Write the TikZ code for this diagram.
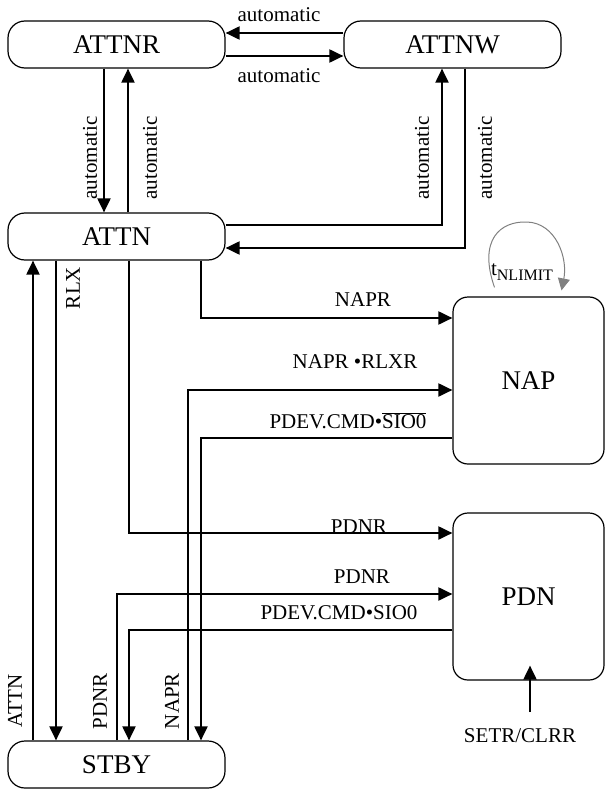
\documentclass[tikz,border=0pt]{standalone}
\usepackage{fontspec}
\setmainfont{Liberation Serif}
\usetikzlibrary{arrows.meta}

\begin{document}
\begin{tikzpicture}
    [
    x=1pt, y=-1pt, font=\fontsize{21}{24}\selectfont,
    >={Triangle[length=14pt,width=13pt]},
    %Voreinstellung für Zustände, Pfeile und Beschriftungen
    zustand/.style={draw, line width=1.2pt, rounded corners=17pt, inner sep=0pt,
      minimum width=217pt, minimum height=47pt, font=\fontsize{27}{30}\selectfont},
    block/.style={zustand, rounded corners=15pt, minimum width=151pt, minimum height=167pt},
    pfeil/.style={->, line width=2pt},
    schleife/.style={-{Triangle[length=12pt,width=12pt]}, gray, line width=1pt},
    lbl/.style={inner sep=0pt}
    ]
    
    \useasboundingbox (0,0) rectangle (605,789);
    
    %Zustände
    \node[zustand] (attnr) at (116.5,44.5) {ATTNR};
    \node[zustand] (attnw) at (452.5,44.5) {ATTNW};
    \node[zustand] (attn) at (116.5,236.5) {ATTN};
    \node[zustand] (stby) at (116.5,764.5) {STBY};
    \node[block] (nap) at (528.5,380.5) {NAP};
    \node[block] (pdn) at (528.5,596.5) {PDN};
    
    %ATTNR <-> ATTNW
    \draw[pfeil] ([yshift=11.5pt]attnw.west) -- ([yshift=11.5pt]attnr.east);
    \draw[pfeil] ([yshift=-11.5pt]attnr.east) -- ([yshift=-11.5pt]attnw.west);
    \node[lbl] (auto1) at (279,15) {automatic};
    \node[lbl] (auto2) at (279,76) {automatic};
    
    %ATTNR <-> ATTN
    \draw[pfeil] ([xshift=-12.5pt]attnr.south) -- ([xshift=-12.5pt]attn.north);
    \draw[pfeil] ([xshift=11.5pt]attn.north) -- ([xshift=11.5pt]attnr.south);
    
    %ATTNW <-> ATTN
    \draw[pfeil] ([yshift=11.5pt]attn.east) -| ([xshift=-10.5pt]attnw.south);
    \draw[pfeil] ([xshift=12.5pt]attnw.south) |- ([yshift=-11.5pt]attn.east);
    
    %senkrechte Beschriftungen
    \foreach \x/\n in {90/a, 150/b, 422/c, 485/d}
    \node[lbl, rotate=90] (auto\n) at (\x,158) {automatic};
    
    %ATTN <-> STBY
    \draw[pfeil] ([xshift=-83.5pt]stby.north) -- ([xshift=-83.5pt]attn.south);
    \draw[pfeil] ([xshift=-60.5pt]attn.south) -- ([xshift=-60.5pt]stby.north);
    \node[lbl, rotate=90] (lattn) at (15,701) {ATTN};
    \node[lbl, rotate=90] (lrlx) at (73,288) {RLX};
    
    %NAP
    \draw[pfeil] ([xshift=84.5pt]attn.south) |- ([yshift=62.5pt]nap.west);
    \draw[pfeil] ([xshift=71.5pt]stby.north) |- ([yshift=-9.5pt]nap.west);
    \draw[pfeil] ([yshift=-57.5pt]nap.west) -| ([xshift=84.5pt]stby.north);
    \node[lbl] (lnapr) at (363,300) {NAPR};
    \node[lbl] (lnaprlxr) at (355,362) {NAPR •RLXR};
    \node[lbl] (lsiobar) at (348,421) {PDEV.CMD•$\overline{\hbox{SIO0}}$};
    \node[lbl, rotate=90] (lnapr2) at (172,701) {NAPR};
    
    %Zeitlimit
    \draw[schleife] ([xshift=-34pt,yshift=9pt]nap.north) .. controls (478,240) and (500,221) .. (527,222)
      .. controls (556,223) and (568,258) .. ([xshift=33pt,yshift=6pt]nap.north);
    \node[lbl] (ltnl) at (522,272) {t\raisebox{-5pt}{\fontsize{16}{18}\selectfont NLIMIT}};
    
    %PDN
    \draw[pfeil] ([xshift=12.5pt]attn.south) |- ([yshift=63.5pt]pdn.west);
    \draw[pfeil] ([xshift=0.5pt]stby.north) |- ([yshift=2.5pt]pdn.west);
    \draw[pfeil] ([yshift=-33.5pt]pdn.west) -| ([xshift=12.5pt]stby.north);
    \node[lbl] (lpdnr) at (359,527) {PDNR};
    \node[lbl] (lpdnr2) at (362,577) {PDNR};
    \node[lbl] (lsio) at (339,613) {PDEV.CMD•SIO0};
    \node[lbl, rotate=90] (lpdnr3) at (100,701) {PDNR};
    
    %SETR/CLRR
    \coordinate (setrin) at (530,712);
    \draw[pfeil] (setrin) -- ([xshift=1.5pt,yshift=15pt]pdn.south);
    \node[lbl] (lsetr) at (520,736) {SETR/CLRR};
\end{tikzpicture}
\end{document}
